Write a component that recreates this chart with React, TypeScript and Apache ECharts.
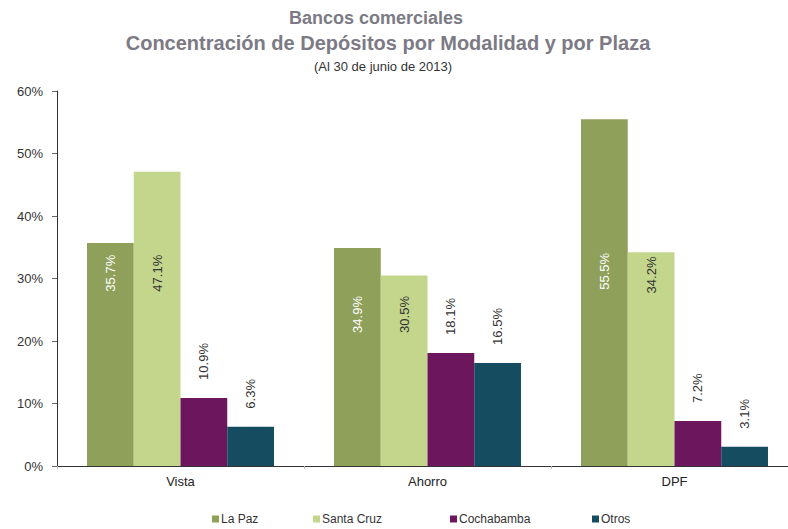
import React, { useEffect, useRef } from "react";
import * as echarts from "echarts";

const categories = ["Vista", "Ahorro", "DPF"];
const seriesNames = ["La Paz", "Santa Cruz", "Cochabamba", "Otros"];
const laPaz = [35.7, 34.9, 55.5];
const santaCruz = [47.1, 30.5, 34.2];
const cochabamba = [10.9, 18.1, 7.2];
const otros = [6.3, 16.5, 3.1];
const yTicks = [0, 10, 20, 30, 40, 50, 60];

// styling
const colors = ["#8fa05b", "#c4d68c", "#6c175d", "#164c5f"];
const insideLabelLevel = [33.8, 27.2, 34.1]; // value level where inside labels end (top)
const legendLeft = [212, 313, 450, 592];
const FONT = "Liberation Sans, Arial, sans-serif";

function insideData(values: number[], color: string) {
  return values.map((v, i) => {
    const pct = Math.max(2, ((v - insideLabelLevel[i]) / v) * 100);
    return {
      value: v,
      label: {
        show: true,
        position: ["50%", pct + "%"],
        rotate: 90,
        align: "right",
        verticalAlign: "middle",
        color,
        fontSize: 13,
        fontFamily: FONT,
        formatter: "{c}%",
      },
    };
  });
}

export default function App() {
  const ref = useRef<HTMLDivElement>(null);
  useEffect(() => {
    if (!ref.current) return;
    const chart = echarts.init(ref.current, undefined, { renderer: "svg" });
    const outsideLabel = {
      show: true,
      position: "top",
      distance: 18,
      rotate: 90,
      align: "left",
      verticalAlign: "middle",
      color: "#333",
      fontSize: 13,
      fontFamily: FONT,
      formatter: "{c}%",
    };
    const common = {
      type: "bar",
      barGap: "0%",
      barCategoryGap: "24.3%",
    };
    chart.setOption({
      animation: false,
      backgroundColor: "#ffffff",
      textStyle: { fontFamily: FONT },
      graphic: [
        {
          type: "text",
          x: 376,
          y: 18,
          style: {
            text: "Bancos comerciales",
            align: "center",
            verticalAlign: "middle",
            fontSize: 18,
            fontWeight: "bold",
            fontFamily: FONT,
            fill: "#7c7a84",
          },
        },
        {
          type: "text",
          x: 388,
          y: 43,
          style: {
            text: "Concentración de Depósitos por Modalidad y por Plaza",
            align: "center",
            verticalAlign: "middle",
            fontSize: 20,
            fontWeight: "bold",
            fontFamily: FONT,
            fill: "#7c7a84",
          },
        },
        {
          type: "text",
          x: 383,
          y: 66,
          style: {
            text: "(Al 30 de junio de 2013)",
            align: "center",
            verticalAlign: "middle",
            fontSize: 13,
            fontFamily: FONT,
            fill: "#333",
          },
        },
      ],
      legend: seriesNames.map((n, i) => ({
        data: [n],
        left: legendLeft[i],
        top: 513,
        padding: 0,
        itemWidth: 7,
        itemHeight: 7,
        icon: "rect",
        textStyle: { fontSize: 12, color: "#333", fontFamily: FONT, padding: [0, 0, 0, -3] },
      })),
      grid: { left: 57, right: -10, top: 91, bottom: 63, containLabel: false, outerBoundsMode: "none" },
      xAxis: {
        type: "category",
        data: categories,
        axisLine: { lineStyle: { color: "#333", width: 1 } },
        axisTick: { show: true, length: 3, lineStyle: { color: "#bbb" } },
        axisLabel: { fontSize: 13, color: "#222", margin: 9, fontFamily: FONT },
      },
      yAxis: {
        type: "value",
        min: yTicks[0],
        max: yTicks[yTicks.length - 1],
        interval: yTicks[1] - yTicks[0],
        axisLine: { show: true, lineStyle: { color: "#333", width: 1 } },
        axisTick: { show: true, length: 5, lineStyle: { color: "#666" } },
        splitLine: { show: false },
        axisLabel: { formatter: "{value}%", fontSize: 13, color: "#333", margin: 14, fontFamily: FONT },
      },
      series: [
        { ...common, name: seriesNames[0], data: insideData(laPaz, "#ffffff"), itemStyle: { color: colors[0] } },
        { ...common, name: seriesNames[1], data: insideData(santaCruz, "#333333"), itemStyle: { color: colors[1] } },
        { ...common, name: seriesNames[2], data: cochabamba, itemStyle: { color: colors[2] }, label: outsideLabel },
        { ...common, name: seriesNames[3], data: otros, itemStyle: { color: colors[3] }, label: outsideLabel },
      ],
    });
    return () => chart.dispose();
  }, []);
  return (
    <div
      ref={ref}
      style={{ position: "fixed", left: 0, top: 0, width: 788, height: 529, background: "#fff" }}
    />
  );
}
